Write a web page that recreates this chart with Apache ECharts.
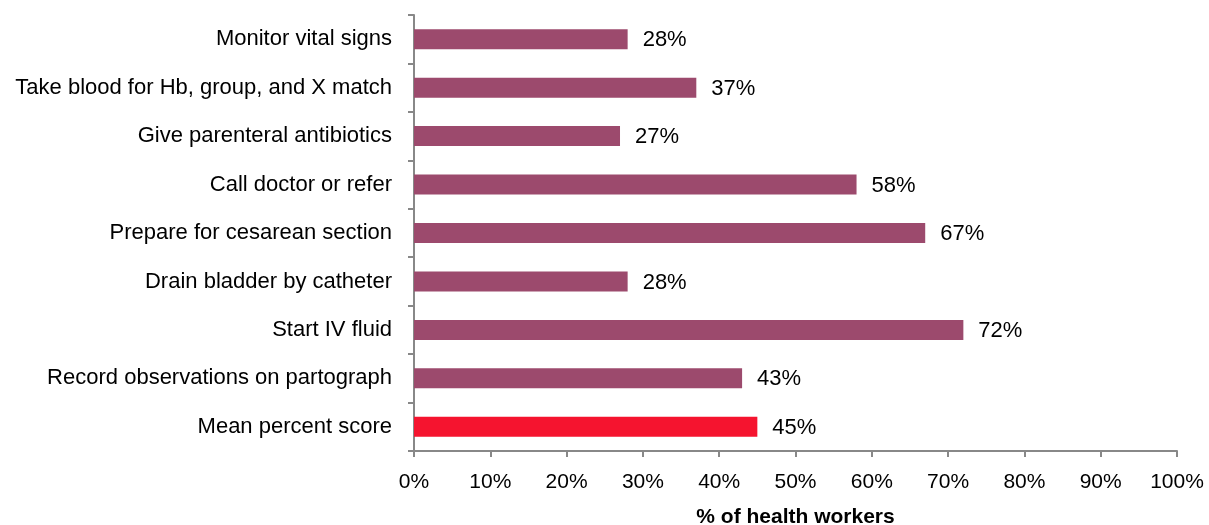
<!DOCTYPE html>
<html>
<head>
<meta charset="utf-8">
<script src="https://cdn.jsdelivr.net/npm/echarts@6/dist/echarts.min.js"></script>
<style>
  html, body { margin: 0; padding: 0; background: #fff; }
  #chart { width: 1209px; height: 525px; }
</style>
</head>
<body>
<div id="chart"></div>
<script>
  // categories listed bottom to top
  const categories = [
    'Mean percent score',
    'Record observations on partograph',
    'Start IV fluid',
    'Drain bladder by catheter',
    'Prepare for cesarean section',
    'Call doctor or refer',
    'Give parenteral antibiotics',
    'Take blood for Hb, group, and X match',
    'Monitor vital signs'
  ];
  const values = [45, 43, 72, 28, 67, 58, 27, 37, 28];
  const highlight = 'Mean percent score';
  const xTicks = [0, 10, 20, 30, 40, 50, 60, 70, 80, 90, 100];

  const barColor = '#9c4a6d';
  const meanColor = '#f5142f';
  const font = '"Liberation Sans", Arial, sans-serif';

  const chart = echarts.init(document.getElementById('chart'));
  chart.setOption({
    animation: false,
    textStyle: { fontFamily: font },
    grid: { left: 414, right: 32, top: 15, bottom: 74, outerBoundsMode: 'none', containLabel: false },
    xAxis: {
      type: 'value',
      min: xTicks[0],
      max: xTicks[xTicks.length - 1],
      interval: 10,
      name: '% of health workers',
      nameLocation: 'middle',
      nameGap: 56,
      nameTextStyle: { fontSize: 21, fontWeight: 'bold', color: '#000', fontFamily: font },
      axisLine: { show: true, lineStyle: { color: '#888', width: 2 } },
      axisTick: { show: true, length: 6, lineStyle: { color: '#888', width: 2 } },
      splitLine: { show: false },
      axisLabel: {
        fontSize: 21, color: '#000', margin: 21,
        formatter: v => v + '%'
      }
    },
    yAxis: {
      type: 'category',
      data: categories,
      axisLine: { show: true, lineStyle: { color: '#888', width: 2 } },
      axisTick: { show: true, length: 6, lineStyle: { color: '#888', width: 2 } },
      axisLabel: { fontSize: 22, color: '#000', margin: 22 }
    },
    series: [{
      type: 'bar',
      barWidth: 20,
      data: values.map((v, i) => ({
        value: v,
        itemStyle: { color: categories[i] === highlight ? meanColor : barColor }
      })),
      label: {
        show: true,
        position: 'right',
        distance: 15,
        fontSize: 22,
        color: '#000',
        offset: [0, 1],
        formatter: p => p.value + '%'
      }
    }]
  });
</script>
</body>
</html>
